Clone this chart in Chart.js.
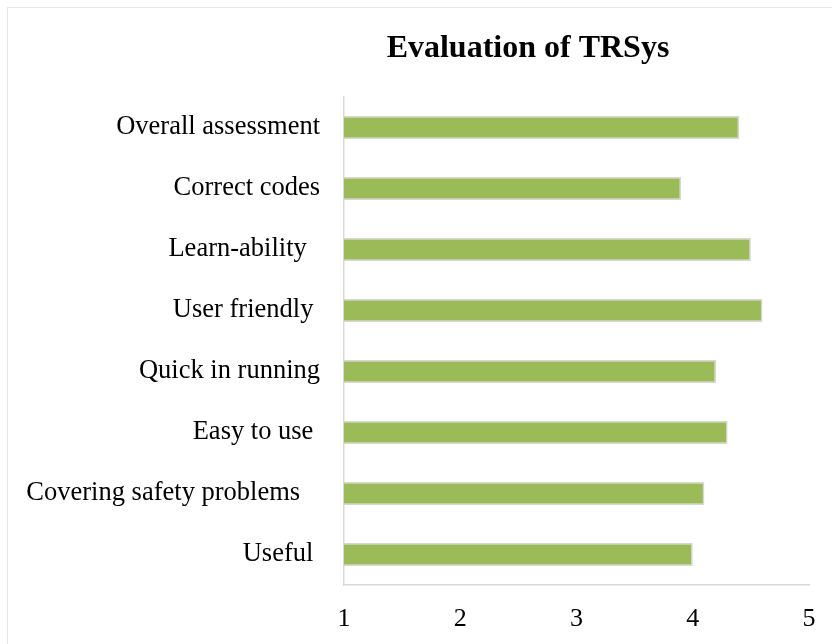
<!DOCTYPE html>
<html>
<head>
<meta charset="utf-8">
<script src="https://cdn.jsdelivr.net/npm/chart.js@4"></script>
<style>
  html, body { margin: 0; padding: 0; background: #fff; }
  #wrap { position: relative; width: 832px; height: 644px; overflow: hidden; background: #fff; }
  #frame { position: absolute; left: 7px; top: 7px; width: 900px; height: 700px; border: 1.5px solid #e6e6e6; }
  #c { position: absolute; left: 0; top: 0; }
</style>
</head>
<body>
<div id="wrap">
  <div id="frame"></div>
  <canvas id="c" width="832" height="644"></canvas>
</div>
<script>
const chartTitle = "Evaluation of TRSys";
const categories = [
  "Overall assessment",
  "Correct codes",
  "Learn-ability  ",
  "User friendly ",
  "Quick in running",
  "Easy to use ",
  "Covering safety problems   ",
  "Useful "
];
const scores = [4.4, 3.9, 4.5, 4.6, 4.2, 4.3, 4.1, 4.0];
const xTicks = [1, 2, 3, 4, 5];

const FONT = "'Liberation Serif', 'Times New Roman', Times, serif";

const titlePlugin = {
  id: 'customTitle',
  afterDraw(chart) {
    const ctx = chart.ctx;
    ctx.save();
    ctx.font = "bold 32px " + FONT;
    ctx.fillStyle = "#000";
    ctx.textAlign = "center";
    ctx.textBaseline = "alphabetic";
    ctx.fillText(chartTitle, 528, 57);
    ctx.restore();
  }
};

new Chart(document.getElementById('c'), {
  type: 'bar',
  data: {
    labels: categories,
    datasets: [{
      data: scores,
      backgroundColor: '#9BBB59',
      borderColor: '#d6d6d6',
      borderWidth: 1.5,
      borderSkipped: 'start',
      barPercentage: 0.38,
      categoryPercentage: 1.0
    }]
  },
  options: {
    indexAxis: 'y',
    responsive: false,
    animation: false,
    devicePixelRatio: 1,
    layout: { padding: { left: 0, right: 23, top: 97, bottom: 0 } },
    plugins: {
      legend: { display: false },
      title: { display: false },
      tooltip: { enabled: false }
    },
    scales: {
      x: {
        type: 'linear',
        min: 1,
        max: 5,
        afterBuildTicks(scale) { scale.ticks = xTicks.map(v => ({ value: v })); },
        afterFit(scale) { scale.height = 59; scale.paddingRight = 0; scale.paddingLeft = 0; },
        grid: { display: false, drawTicks: false },
        border: { display: true, color: '#d9d9d9', width: 1.5 },
        ticks: {
          padding: 19,
          color: '#000',
          font: { family: FONT, size: 26 }
        }
      },
      y: {
        afterFit(scale) { scale.width = 344; },
        grid: { display: false, drawTicks: false },
        border: { display: true, color: '#d9d9d9', width: 1.5 },
        ticks: {
          padding: 24,
          color: '#000',
          font: { family: FONT, size: 26.5 }
        }
      }
    }
  },
  plugins: [titlePlugin]
});
</script>
</body>
</html>
